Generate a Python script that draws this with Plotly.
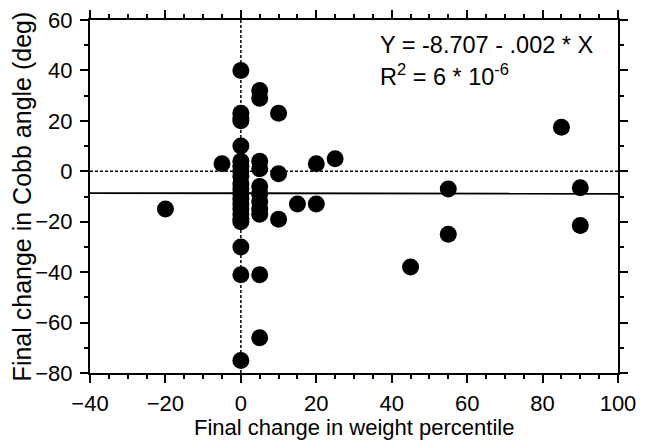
import plotly.graph_objects as go

# Data: final change in weight percentile (x) vs final change in Cobb angle (y)
x_vals = [-20, -5,
          0, 0, 0, 0, 0, 0, 0, 0, 0, 0, 0, 0, 0, 0, 0, 0, 0, 0, 0, 0, 0,
          5, 5, 5, 5, 5, 5, 5, 5, 5, 5, 5,
          10, 10, 10,
          15, 20, 20, 25,
          45, 55, 55, 85, 90, 90]
y_vals = [-15, 3,
          40, 23, 21, 20, 10, 4, 2, 0, -2, -5, -7, -9, -11, -13, -15, -17, -19, -20, -30, -41, -75,
          32, 29, 4, 1, -6, -9, -12, -15, -17, -41, -66,
          23, -1, -19,
          -13, -13, 3, 5,
          -38, -7, -25, 17.5, -6.5, -21.5]

fit_intercept = -8.707
fit_slope = -0.002
x_range = [-40, 100]
y_range = [-80, 60]
fit_x = x_range
fit_y = [fit_intercept + fit_slope * v for v in fit_x]

eq_line1 = "Y = -8.707 - .002 * X"
eq_line2 = "R<sup>2</sup> = 6 * 10<sup>-6</sup>"
x_title = "Final change in weight percentile"
y_title = "Final change in Cobb angle (deg)"

FONT = "Liberation Sans, Arial, sans-serif"

fig = go.Figure()

# reference dashed lines at x=0 and y=0
fig.add_trace(go.Scatter(x=x_range, y=[0, 0], mode="lines",
                         line=dict(color="black", width=1.5, dash="3px,2px"),
                         hoverinfo="skip", showlegend=False))
fig.add_trace(go.Scatter(x=[0, 0], y=y_range, mode="lines",
                         line=dict(color="black", width=1.5, dash="3px,2px"),
                         hoverinfo="skip", showlegend=False))
# regression line
fig.add_trace(go.Scatter(x=fit_x, y=fit_y, mode="lines",
                         line=dict(color="black", width=1.8),
                         showlegend=False))
# data points
fig.add_trace(go.Scatter(x=x_vals, y=y_vals, mode="markers",
                         marker=dict(color="black", size=17, line=dict(width=0)),
                         showlegend=False))

fig.add_annotation(xref="paper", yref="paper", x=0.545, y=0.928,
                   xanchor="left", yanchor="middle", showarrow=False,
                   text=eq_line1, font=dict(family=FONT, size=23.5, color="black"))
fig.add_annotation(xref="paper", yref="paper", x=0.545, y=0.843,
                   xanchor="left", yanchor="middle", showarrow=False,
                   text=eq_line2, font=dict(family=FONT, size=23.5, color="black"))
# axis titles
fig.add_annotation(xref="paper", yref="paper", x=0.5, y=-0.155,
                   xanchor="center", yanchor="middle", showarrow=False,
                   text=x_title, font=dict(family=FONT, size=22, color="black"))
fig.add_annotation(xref="paper", yref="paper", x=-0.129, y=0.5,
                   xanchor="center", yanchor="middle", showarrow=False, textangle=-90,
                   text=y_title, font=dict(family=FONT, size=25, color="black"))

axis_common = dict(showgrid=False, zeroline=False, showline=True, linecolor="black",
                   linewidth=2, mirror="ticks", ticks="outside", tickcolor="black",
                   tickwidth=2, ticklen=8, automargin=False,
                   tickfont=dict(family=FONT, size=22, color="black"))

fig.update_xaxes(range=x_range, tick0=-40, dtick=20,
                 minor=dict(dtick=5, ticks="outside", ticklen=4, tickwidth=2, tickcolor="black"),
                 ticklabelstandoff=2,
                 **axis_common)
fig.update_yaxes(range=y_range, tick0=-80, dtick=20,
                 minor=dict(dtick=10, ticks="outside", ticklen=4, tickwidth=2, tickcolor="black"),
                 ticklabelstandoff=3,
                 **axis_common)

fig.update_layout(width=645, height=444, margin=dict(l=90, r=27, t=20, b=71),
                  plot_bgcolor="white", paper_bgcolor="white",
                  font=dict(family=FONT, color="black"))

fig.write_html("out.html", config={"displayModeBar": False},
               post_script="document.body.style.margin='0px';")
